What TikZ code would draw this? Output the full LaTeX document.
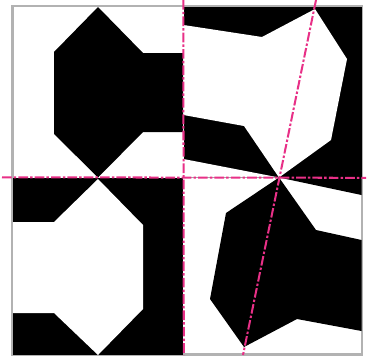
\documentclass[tikz,border=0pt]{standalone}
\usepackage{xcolor}
\definecolor{framegray}{RGB}{178,178,178}
\definecolor{axispink}{RGB}{232,48,135}
\begin{document}
\begin{tikzpicture}[
    x=0.02cm,y=-0.02cm,
    inkshape/.style={fill=black,draw=none},
    paperhole/.style={fill=white,draw=none},
    frameline/.style={draw=framegray,line width=1.3pt},
    axisline/.style={draw=axispink,line width=1.15pt,
                     dash pattern=on 5.5pt off 1.2pt on 1.4pt off 1.2pt}]
\useasboundingbox (0,0) rectangle (367,355);
\fill[white] (0,0) rectangle (367,355);
\draw[frameline] (12.5,6) rectangle (362,354.5);
% top left
\fill[inkshape] (98,7)--(143,53)--(183,53)--(183,132)--(143,132)--(98,177.5)--(54,134)--(54,52)--cycle;
% top right
\fill[inkshape] (183.5,6.5) rectangle (361.5,177.5);
\fill[paperhole] (183.5,25)--(262,37)--(315,9)--(347,59)--(331,140)--(279,177.5)--(244,126)--(183.5,115)--cycle;
\fill[paperhole] (183.5,159)--(279,177.5)--(183.5,177.5)--cycle;
% bottom left
\fill[inkshape] (13,177.5) rectangle (183,355);
\fill[paperhole] (98,179)--(143,225)--(143,309)--(98,355)--(54,313)--(13,313)--(13,222)--(54,222)--cycle;
% bottom right
\fill[inkshape] (279,177.5)--(361.5,195)--(361.5,177.5)--cycle;
\fill[inkshape] (279,177.5)--(316,230)--(361.5,240)--(361.5,331)--(297,319)--(244,347)--(210,299)--(226,213)--cycle;
% axes
\coordinate (axisW) at (2,177.3);
\coordinate (axisE) at (366,177.8);
\coordinate (axisN) at (183.3,0);
\coordinate (axisS) at (183.8,355);
\coordinate (tiltN) at (316,0);
\coordinate (tiltS) at (243,355);
\draw[axisline] (axisW)--(axisE);
\draw[axisline] (axisN)--(axisS);
\draw[axisline] (tiltN)--(tiltS);
\end{tikzpicture}
\end{document}
